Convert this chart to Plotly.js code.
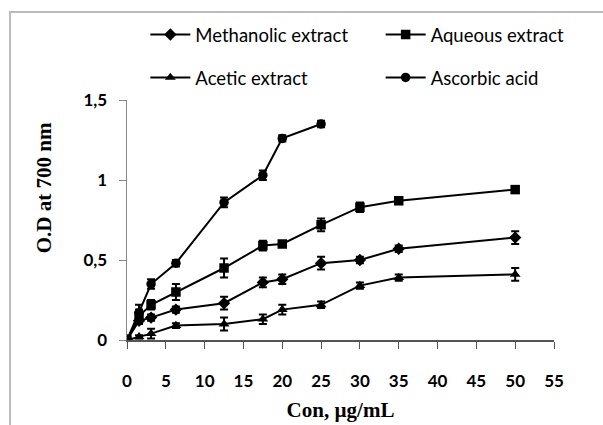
<!DOCTYPE html>
<html><head><meta charset="utf-8">
<script src="https://cdn.plot.ly/plotly-3.0.1.min.js"></script>
<style>html,body{margin:0;padding:0;background:#fff}#c{width:603px;height:425px}</style>
</head><body><div id="c"></div>
<script>
const conc = [0, 1.55, 3.1, 6.3, 12.5, 17.5, 20, 25, 30, 35, 50];
const concAsc = [0, 1.55, 3.1, 6.3, 12.5, 17.5, 20, 25];
const methanolic = [0, 0.12, 0.14, 0.19, 0.23, 0.36, 0.38, 0.48, 0.50, 0.57, 0.64];
const methanolicErr = [0.01, 0.02, 0.02, 0.02, 0.04, 0.03, 0.03, 0.04, 0.02, 0.02, 0.04];
const aqueous = [0, 0.15, 0.22, 0.30, 0.45, 0.59, 0.60, 0.72, 0.83, 0.87, 0.94];
const aqueousErr = [0.01, 0.04, 0.03, 0.05, 0.06, 0.03, 0.015, 0.04, 0.03, 0.02, 0.01];
const acetic = [0, 0.02, 0.04, 0.09, 0.10, 0.13, 0.19, 0.22, 0.34, 0.39, 0.41];
const aceticErr = [0.01, 0.01, 0.03, 0.015, 0.04, 0.03, 0.03, 0.02, 0.02, 0.02, 0.04];
const ascorbic = [0, 0.17, 0.35, 0.48, 0.86, 1.03, 1.26, 1.35];
const ascorbicErr = [0.01, 0.05, 0.03, 0.02, 0.03, 0.03, 0.02, 0.02];
const xTitle = 'Con, µg/mL';
const yTitle = 'O.D at 700 nm';

function tr(name, x, y, e, sym, leg){
  return {x:x, y:y, name:name, type:'scatter', mode:'lines+markers',
    line:{color:'#000', width:2}, marker:{symbol:sym, size:9.5, color:'#000'},
    error_y:{type:'data', array:e, visible:true, color:'#000', thickness:2, width:4},
    legend:leg};
}
const data = [
  tr('Methanolic extract', conc, methanolic, methanolicErr, 'diamond', 'legend'),
  tr('Aqueous extract', conc, aqueous, aqueousErr, 'square', 'legend2'),
  tr('Acetic extract', conc, acetic, aceticErr, 'triangle-up', 'legend3'),
  tr('Ascorbic acid', concAsc, ascorbic, ascorbicErr, 'circle', 'legend4')
];
function leg(x, y){
  return {orientation:'h', xanchor:'left', yanchor:'middle', x:x, y:y,
    font:{family:'Lato, Open Sans, sans-serif', size:18.5, color:'#000'}, bgcolor:'rgba(0,0,0,0)', itemwidth:40};
}
const titleFont = {family:'Liberation Serif, Times New Roman, serif', size:21, color:'#000', weight:'bold'};
const layout = {
  width:603, height:425, separators:',.',
  margin:{l:127, r:49, t:100, b:85},
  paper_bgcolor:'#fff', plot_bgcolor:'#fff',
  showlegend:true,
  legend:leg(0.043, 1.271),
  legend2:leg(0.594, 1.271),
  legend3:leg(0.043, 1.092),
  legend4:leg(0.594, 1.092),
  xaxis:{range:[0,55], dtick:5, tick0:0, showgrid:false, zeroline:false, showline:true, linecolor:'#555', linewidth:1.5,
    ticks:'outside', ticklen:7, tickcolor:'#555', ticklabelstandoff:18,
    tickfont:{family:'Lato, Open Sans, sans-serif', size:17, color:'#000', weight:'bold'},
    title:{text:xTitle, font:titleFont, standoff:12}},
  yaxis:{range:[0,1.5], dtick:0.5, tick0:0, showgrid:false, zeroline:false, showline:true, linecolor:'#888', linewidth:1.5,
    ticks:'outside', ticklen:7, tickcolor:'#888', ticklabelstandoff:8,
    tickfont:{family:'Lato, Open Sans, sans-serif', size:17, color:'#000', weight:'bold'}},
  annotations:[{text:yTitle, xref:'paper', yref:'paper', x:-0.194, y:0.633, textangle:-90,
    showarrow:false, xanchor:'center', yanchor:'middle', font:titleFont}],
  shapes:[{type:'rect', xref:'paper', yref:'paper', x0:-0.274, x1:1.14, y0:-0.4, y1:1.367, line:{color:'#bbb', width:2}, layer:'below'}]
};
Plotly.newPlot('c', data, layout, {displayModeBar:false, staticPlot:true});
</script></body></html>
